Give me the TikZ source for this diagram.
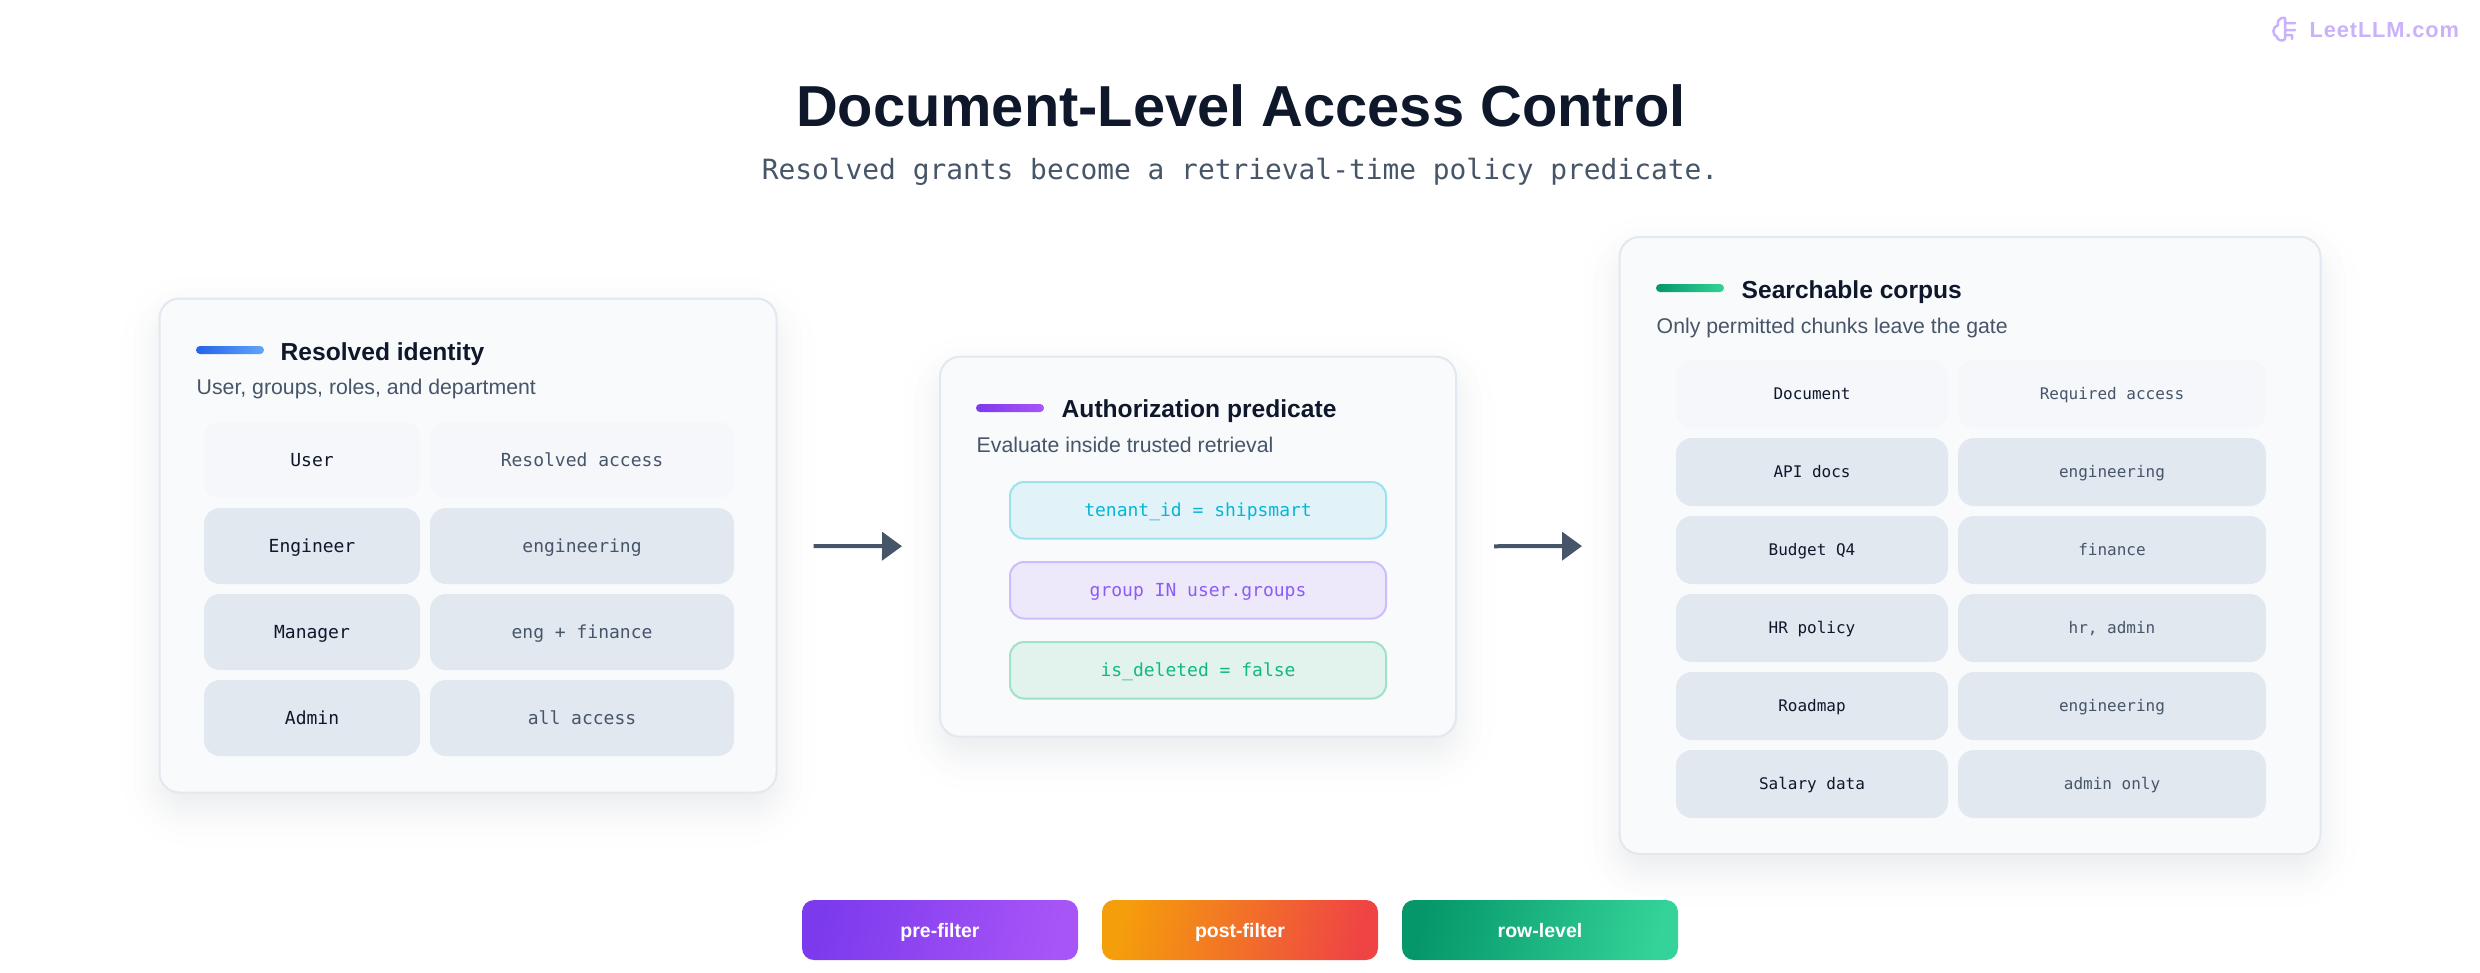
\documentclass[tikz,border=0pt]{standalone}
\usepackage{fontspec}
\setmainfont{Liberation Sans}
\setmonofont{DejaVu Sans Mono}
\usetikzlibrary{arrows.meta, positioning, backgrounds}
\definecolor{ink}{HTML}{0F172A}
\definecolor{slate}{HTML}{475569}
\definecolor{cardfill}{HTML}{F8FAFC}
\definecolor{cardline}{HTML}{E2E8F0}
\definecolor{headfill}{HTML}{F5F7FB}
\definecolor{cellfill}{HTML}{E2E8F0}
\definecolor{wmark}{HTML}{C9B1FB}
\definecolor{bluea}{HTML}{2563EB}
\definecolor{blueb}{HTML}{60A5FA}
\definecolor{violeta}{HTML}{7C3AED}
\definecolor{violetb}{HTML}{A855F7}
\definecolor{greena}{HTML}{059669}
\definecolor{greenb}{HTML}{34D399}
\definecolor{ambera}{HTML}{F59E0B}
\definecolor{amberb}{HTML}{EF4444}
\definecolor{tenanttext}{HTML}{06B6D4}
\definecolor{tenantfill}{HTML}{E1F3F9}
\definecolor{tenantline}{HTML}{9BE3EC}
\definecolor{grouptext}{HTML}{8B5CF6}
\definecolor{groupfill}{HTML}{EDE9FB}
\definecolor{groupline}{HTML}{CDBDFA}
\definecolor{deletedtext}{HTML}{10B981}
\definecolor{deletedfill}{HTML}{E2F3EE}
\definecolor{deletedline}{HTML}{9FE1C9}
\newcommand{\bigfont}{\fontsize{16.45}{19}\selectfont\bfseries}
\newcommand{\leadfont}{\fontsize{7.93}{10}\selectfont\ttfamily}
\newcommand{\cardfont}{\fontsize{7}{9}\selectfont\bfseries}
\newcommand{\descfont}{\fontsize{6.05}{7}\selectfont}
\newcommand{\bigcell}{\fontsize{5.12}{7}\selectfont\ttfamily}
\newcommand{\smallcell}{\fontsize{4.55}{6}\selectfont\ttfamily}
\tikzstyle{card} = [rectangle, rounded corners=0.2cm, draw=cardline, line width=0.02cm, fill=cardfill, inner sep=0pt, outer sep=0pt]
\tikzstyle{accent} = [rectangle, rounded corners=0.04cm, minimum width=0.68cm, minimum height=0.08cm, inner sep=0pt, outer sep=0pt, anchor=west]
\tikzstyle{cardtitle} = [anchor=base west, inner sep=0pt, text=ink, font=\cardfont]
\tikzstyle{carddesc} = [anchor=base west, inner sep=0pt, text=slate, font=\descfont]
\tikzstyle{cell} = [rectangle, rounded corners=0.16cm, inner sep=0pt, outer sep=0pt, text depth=0pt]
\tikzstyle{idname} = [cell, minimum width=2.16cm, minimum height=0.76cm, text height=0.131cm, font=\bigcell, text=ink, fill=cellfill]
\tikzstyle{idaccess} = [cell, minimum width=3.04cm, minimum height=0.76cm, text height=0.131cm, font=\bigcell, text=slate, fill=cellfill]
\tikzstyle{docname} = [cell, minimum width=2.72cm, minimum height=0.68cm, text height=0.117cm, font=\smallcell, text=ink, fill=cellfill]
\tikzstyle{docaccess} = [cell, minimum width=3.08cm, minimum height=0.68cm, text height=0.117cm, font=\smallcell, text=slate, fill=cellfill]
\tikzstyle{clause} = [rectangle, rounded corners=0.14cm, minimum width=3.76cm, minimum height=0.565cm, line width=0.02cm, inner sep=0pt, outer sep=0pt, text height=0.131cm, text depth=0pt, font=\bigcell]
\tikzstyle{badge} = [rectangle, rounded corners=0.12cm, minimum width=2.76cm, minimum height=0.6cm, inner sep=0pt, outer sep=0pt, text=white, font=\fontsize{5.55}{7}\selectfont\bfseries, text height=0.14cm, text depth=0pt]
\tikzstyle{arrow} = [draw=slate, line width=0.04cm, -{Triangle[length=0.2cm,width=0.28cm]}]
\newcommand{\softshadow}[1]{%
  \begin{scope}[on background layer]
    \foreach \spread [evaluate=\spread as \bend using {max(0.2,0.3+\spread)}] in {-0.374,-0.264,-0.2,-0.152,-0.114,-0.078,-0.048,-0.016,0.016,0.048,0.078,0.114,0.152,0.2,0.264,0.374} {
      \fill [slate, opacity=0.008, rounded corners=\bend cm]
        ([shift={(-\spread cm,\spread cm-0.16cm)}]#1.north west) rectangle
        ([shift={(\spread cm,-\spread cm-0.16cm)}]#1.south east);
    }
  \end{scope}}
\begin{document}
\begin{tikzpicture}
\useasboundingbox (0,0) rectangle (24.8,-9.72);

\node (heading) [anchor=base, inner sep=0pt, text=ink, font=\bigfont] at (12.41,-1.26) {Document-Level Access Control};
\node (lead) [anchor=base, inner sep=0pt, text=slate, font=\leadfont] at (12.40,-1.79) {Resolved grants become a retrieval-time policy predicate.};

% left card
\node (identity) [card, minimum width=6.17cm, minimum height=4.94cm] at (4.68,-5.455) {};
\node (idbar) [accent, left color=bluea, right color=blueb] at (1.96,-3.50) {};
\node (idtitle) [cardtitle] at (2.80,-3.60) {Resolved identity};
\node (iddesc) [carddesc] at (1.96,-3.94) {User, groups, roles, and department};
\node (usercell) [idname, anchor=north west, fill=headfill] at (2.04,-4.22) {User};
\node (accesscell) [idaccess, right=0.10cm of usercell, fill=headfill] {Resolved access};
\node (engineer) [idname, below=0.10cm of usercell] {Engineer};
\node (engaccess) [idaccess, right=0.10cm of engineer] {engineering};
\node (manager) [idname, below=0.10cm of engineer] {Manager};
\node (mgraccess) [idaccess, right=0.10cm of manager] {eng + finance};
\node (admin) [idname, below=0.10cm of manager] {Admin};
\node (admaccess) [idaccess, right=0.10cm of admin] {all access};

% middle card
\node (predicate) [card, minimum width=5.16cm, minimum height=3.80cm] at (11.98,-5.467) {};
\node (predbar) [accent, left color=violeta, right color=violetb] at (9.76,-4.08) {};
\node (predtitle) [cardtitle] at (10.61,-4.17) {Authorization predicate};
\node (preddesc) [carddesc] at (9.76,-4.52) {Evaluate inside trusted retrieval};
\node (tenant) [clause, anchor=north, draw=tenantline, fill=tenantfill, text=tenanttext] at (11.98,-4.82) {tenant\_id = shipsmart};
\node (group) [clause, below=0.235cm of tenant, draw=groupline, fill=groupfill, text=grouptext] {group IN user.groups};
\node (deleted) [clause, below=0.235cm of group, draw=deletedline, fill=deletedfill, text=deletedtext] {is\_deleted = false};

% right card
\node (corpus) [card, minimum width=7.01cm, minimum height=6.17cm] at (19.70,-5.455) {};
\node (corpbar) [accent, left color=greena, right color=greenb] at (16.56,-2.88) {};
\node (corptitle) [cardtitle] at (17.41,-2.98) {Searchable corpus};
\node (corpdesc) [carddesc] at (16.56,-3.33) {Only permitted chunks leave the gate};
\node (doccell) [docname, anchor=north west, fill=headfill] at (16.76,-3.60) {Document};
\node (reqcell) [docaccess, right=0.10cm of doccell, fill=headfill] {Required access};
\node (apidocs) [docname, below=0.10cm of doccell] {API docs};
\node (apiaccess) [docaccess, right=0.10cm of apidocs] {engineering};
\node (budget) [docname, below=0.10cm of apidocs] {Budget Q4};
\node (budaccess) [docaccess, right=0.10cm of budget] {finance};
\node (hrpolicy) [docname, below=0.10cm of budget] {HR policy};
\node (hraccess) [docaccess, right=0.10cm of hrpolicy] {hr, admin};
\node (roadmap) [docname, below=0.10cm of hrpolicy] {Roadmap};
\node (roadaccess) [docaccess, right=0.10cm of roadmap] {engineering};
\node (salary) [docname, below=0.10cm of roadmap] {Salary data};
\node (salaccess) [docaccess, right=0.10cm of salary] {admin only};

\softshadow{identity}
\softshadow{predicate}
\softshadow{corpus}

\draw [arrow, shorten <=0.37cm, shorten >=0.38cm] (identity) -- (predicate);
\draw [arrow, shorten <=0.38cm, shorten >=0.375cm] (predicate) -- (corpus);

% legend
\node (prefilter) [badge, left color=violeta, right color=violetb, shading angle=78] at (9.40,-9.30) {pre-filter};
\node (postfilter) [badge, right=0.24cm of prefilter, left color=ambera, right color=amberb, shading angle=78] {post-filter};
\node (rowlevel) [badge, right=0.24cm of postfilter, left color=greena, right color=greenb, shading angle=78] {row-level};

% watermark
\node (wmtext) [anchor=base west, inner sep=0pt, text=wmark, font=\fontsize{6.2}{8}\selectfont\bfseries\addfontfeature{LetterSpace=4}] at (23.09,-0.37) {LeetLLM.com};
\draw [wmark, line width=0.025cm, line cap=round, line join=round] (22.85,-0.18) .. controls (22.78,-0.17) and (22.77,-0.23) .. (22.78,-0.25) .. controls (22.72,-0.27) and (22.72,-0.35) .. (22.77,-0.37) .. controls (22.77,-0.40) and (22.83,-0.42) .. (22.85,-0.39) -- cycle (22.85,-0.23) -- (22.95,-0.23) (22.85,-0.30) -- (22.95,-0.30) (22.85,-0.35) -- (22.92,-0.35) -- (22.92,-0.39);
\end{tikzpicture}
\end{document}
